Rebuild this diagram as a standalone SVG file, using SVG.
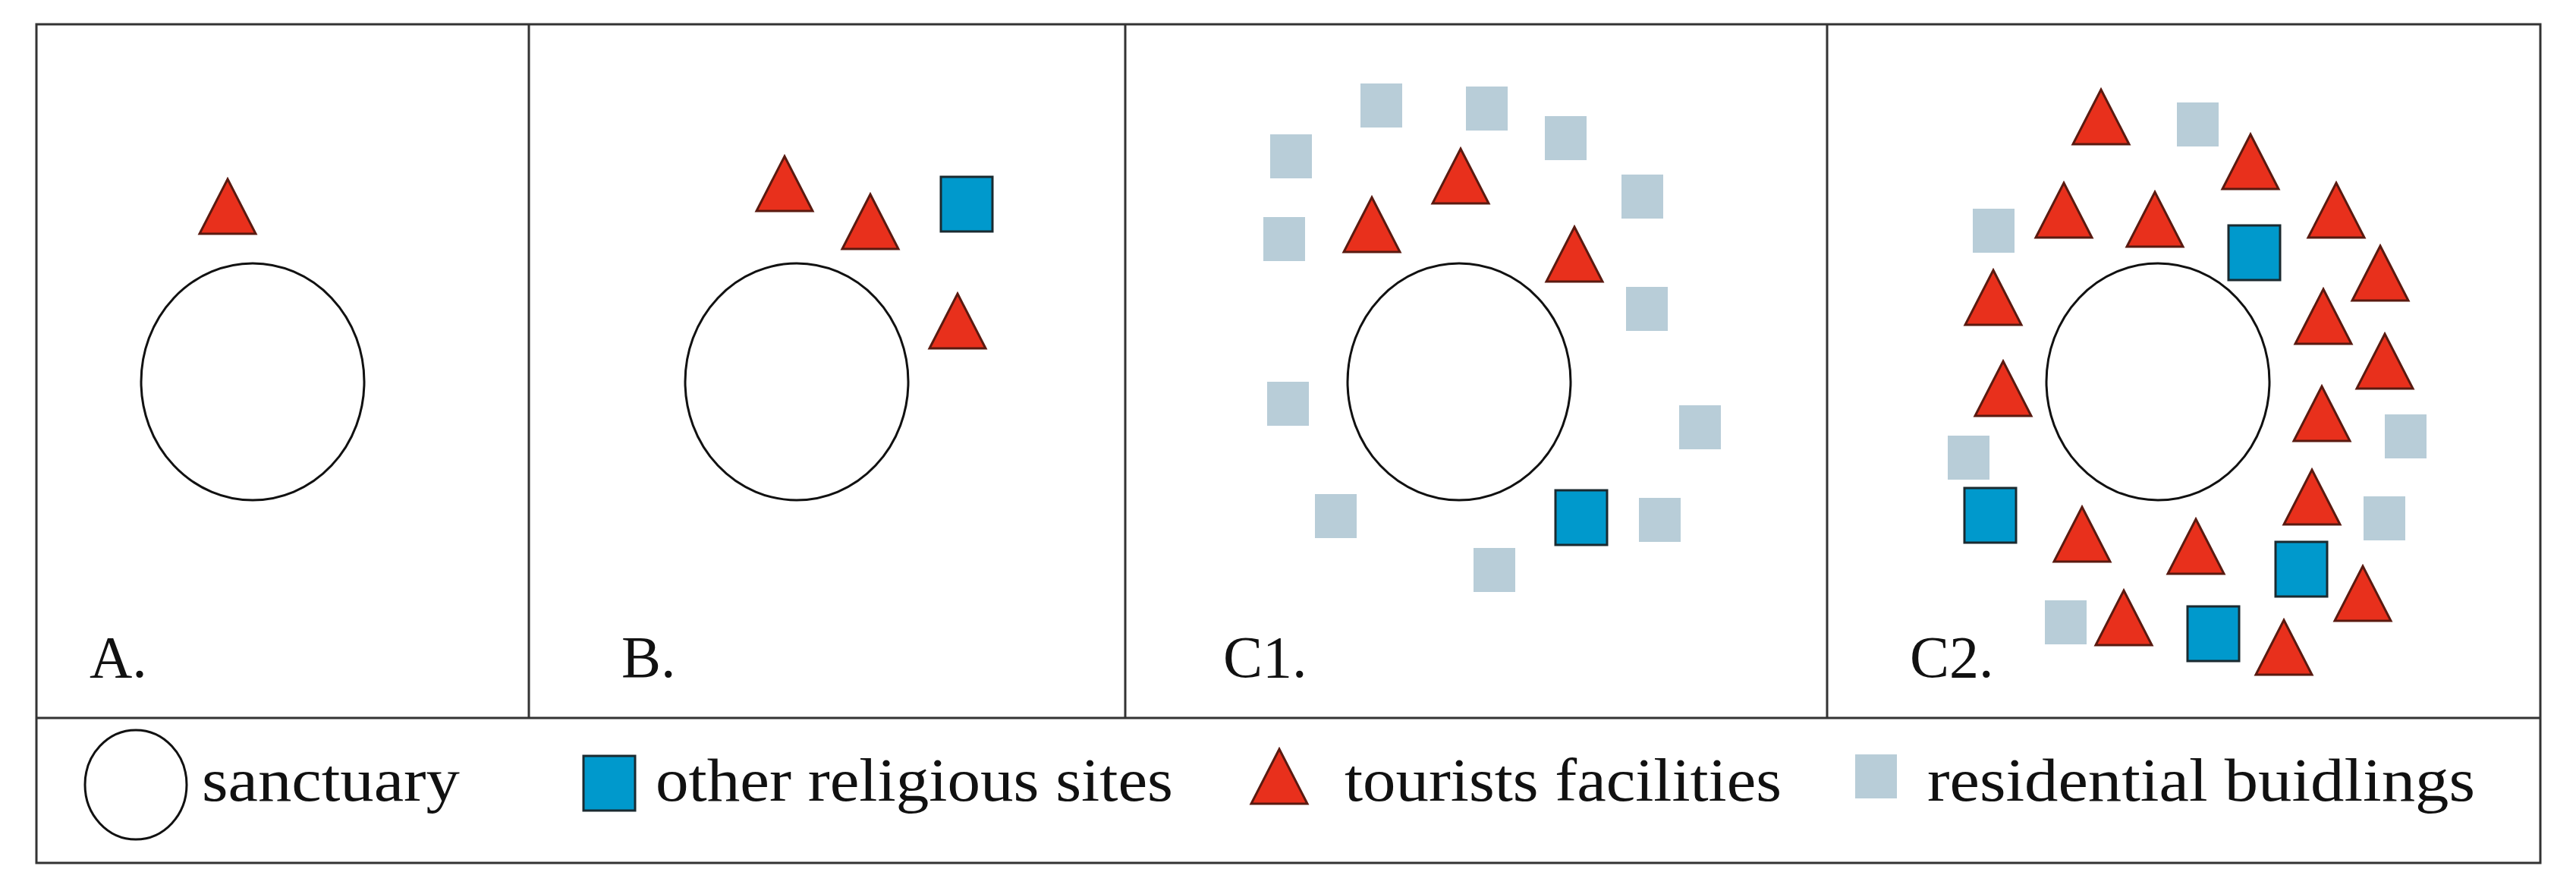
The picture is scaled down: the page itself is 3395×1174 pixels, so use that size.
<svg xmlns="http://www.w3.org/2000/svg" xmlns:xlink="http://www.w3.org/1999/xlink" width="3395" height="1174" viewBox="0 0 3395 1174">
<style>
.frame{fill:none;stroke:#333;stroke-width:3}
.sanct{fill:#fff;stroke:#111;stroke-width:3}
.tri{fill:#e8301c;stroke:#5a1a10;stroke-width:3;stroke-linejoin:miter}
.rel{fill:#0099cc;stroke:#1a2a30;stroke-width:3}
.res{fill:#b8cdd8}
.lbl{font-family:"Liberation Serif",serif;font-size:78px;fill:#111}
.leg{font-family:"Liberation Serif",serif;font-size:80px;fill:#111}
</style>
<defs>
<path id="t" class="tri" d="M0,0 L37,72 L-37,72 Z"/>
<rect id="b" class="rel" width="68" height="72"/>
<rect id="g" class="res" width="55" height="58"/>
</defs>
<rect width="3395" height="1174" fill="#fff"/>
<g id="frame">
<rect class="frame" x="48" y="32" width="3300" height="1105"/>
<line class="frame" x1="48" y1="946" x2="3348" y2="946"/>
<line class="frame" x1="697" y1="32" x2="697" y2="946"/>
<line class="frame" x1="1483" y1="32" x2="1483" y2="946"/>
<line class="frame" x1="2408" y1="32" x2="2408" y2="946"/>
</g>
<g id="panelA">
<ellipse class="sanct" cx="333" cy="503" rx="147" ry="156"/>
<use xlink:href="#t" x="300" y="236"/>
<text class="lbl" x="118" y="892">A.</text>
</g>
<g id="panelB">
<ellipse class="sanct" cx="1050" cy="503" rx="147" ry="156"/>
<use xlink:href="#t" x="1034" y="206"/>
<use xlink:href="#t" x="1147" y="256"/>
<use xlink:href="#t" x="1262" y="387"/>
<use xlink:href="#b" x="1240" y="233"/>
<text class="lbl" x="819" y="892">B.</text>
</g>
<g id="panelC1">
<ellipse class="sanct" cx="1923" cy="503" rx="147" ry="156"/>
<use xlink:href="#g" x="1793" y="110"/>
<use xlink:href="#g" x="1932" y="114"/>
<use xlink:href="#g" x="2036" y="153"/>
<use xlink:href="#g" x="1674" y="177"/>
<use xlink:href="#g" x="2137" y="230"/>
<use xlink:href="#g" x="1665" y="286"/>
<use xlink:href="#g" x="2143" y="378"/>
<use xlink:href="#g" x="1670" y="503"/>
<use xlink:href="#g" x="2213" y="534"/>
<use xlink:href="#g" x="1733" y="651"/>
<use xlink:href="#g" x="2160" y="656"/>
<use xlink:href="#g" x="1942" y="722"/>
<use xlink:href="#t" x="1925" y="196"/>
<use xlink:href="#t" x="1808" y="260"/>
<use xlink:href="#t" x="2075" y="299"/>
<use xlink:href="#b" x="2050" y="646"/>
<text class="lbl" x="1612" y="892">C1.</text>
</g>
<g id="panelC2">
<ellipse class="sanct" cx="2844" cy="503" rx="147" ry="156"/>
<use xlink:href="#g" x="2869" y="135"/>
<use xlink:href="#g" x="2600" y="275"/>
<use xlink:href="#g" x="3143" y="546"/>
<use xlink:href="#g" x="2567" y="574"/>
<use xlink:href="#g" x="3115" y="654"/>
<use xlink:href="#g" x="2695" y="791"/>
<use xlink:href="#t" x="2769" y="118"/>
<use xlink:href="#t" x="2966" y="177"/>
<use xlink:href="#t" x="2720" y="241"/>
<use xlink:href="#t" x="2840" y="253"/>
<use xlink:href="#t" x="3079" y="241"/>
<use xlink:href="#t" x="3137" y="324"/>
<use xlink:href="#t" x="2627" y="356"/>
<use xlink:href="#t" x="3062" y="381"/>
<use xlink:href="#t" x="3143" y="440"/>
<use xlink:href="#t" x="2640" y="476"/>
<use xlink:href="#t" x="3060" y="509"/>
<use xlink:href="#t" x="3047" y="619"/>
<use xlink:href="#t" x="2744" y="668"/>
<use xlink:href="#t" x="2894" y="684"/>
<use xlink:href="#t" x="3114" y="746"/>
<use xlink:href="#t" x="2799" y="778"/>
<use xlink:href="#t" x="3010" y="817"/>
<use xlink:href="#b" x="2937" y="297"/>
<use xlink:href="#b" x="2589" y="643"/>
<use xlink:href="#b" x="2999" y="714"/>
<use xlink:href="#b" x="2883" y="799"/>
<text class="lbl" x="2517" y="892">C2.</text>
</g>
<g id="legend">
<ellipse class="sanct" cx="179" cy="1034" rx="67" ry="72"/>
<text class="leg" x="266" y="1055" textLength="340" lengthAdjust="spacingAndGlyphs">sanctuary</text>
<use xlink:href="#b" x="769" y="996"/>
<text class="leg" x="864" y="1055" textLength="682" lengthAdjust="spacingAndGlyphs">other religious sites</text>
<use xlink:href="#t" x="1686" y="987"/>
<text class="leg" x="1772" y="1055" textLength="576" lengthAdjust="spacingAndGlyphs">tourists facilities</text>
<use xlink:href="#g" x="2445" y="994"/>
<text class="leg" x="2540" y="1055" textLength="722" lengthAdjust="spacingAndGlyphs">residential buidlings</text>
</g>
</svg>
